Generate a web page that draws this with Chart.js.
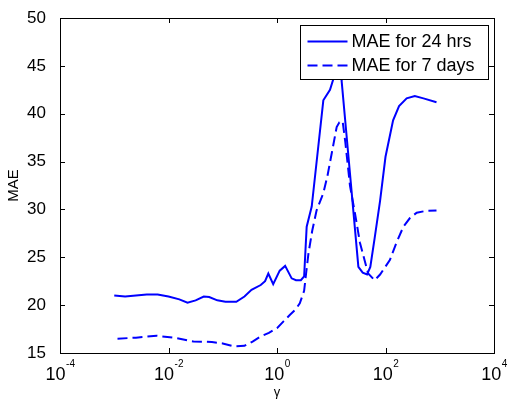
<!DOCTYPE html>
<html>
<head>
  <meta charset="utf-8">
  <title>MAE vs gamma</title>
  <script src="https://cdn.jsdelivr.net/npm/chart.js@4.4.1/dist/chart.umd.min.js"></script>
  <style>
    html, body { margin: 0; padding: 0; background: #fff; }
    canvas { display: block; }
  </style>
</head>
<body>
  <canvas id="chart" width="508" height="403"></canvas>
  <script>
    // values; x given as log10(gamma)
    var logGamma24 = [-3.0, -2.8, -2.6, -2.4, -2.2, -2.0, -1.8, -1.65, -1.5, -1.35, -1.25, -1.1, -0.95, -0.75, -0.6,
      -0.47, -0.3, -0.22, -0.16, -0.07, 0.05, 0.15, 0.27, 0.35, 0.44, 0.5, 0.547, 0.64, 0.75, 0.854, 0.977, 1.07,
      1.12, 1.17, 1.19, 1.3, 1.4, 1.5, 1.58, 1.66, 1.72, 1.8, 1.9, 2.0, 2.14, 2.25, 2.39, 2.54, 2.7, 2.94];
    var mae24 = [21.0, 20.9, 21.0, 21.1, 21.1, 20.9, 20.6, 20.25, 20.5, 20.9, 20.85, 20.5, 20.35, 20.35, 20.9,
      21.6, 22.1, 22.5, 23.3, 22.2, 23.6, 24.1, 22.8, 22.6, 22.6, 23.0, 28.2, 30.3, 36.0, 41.4, 42.5, 44.2,
      47.0, 45.5, 43.5, 36.6, 30.3, 24.0, 23.4, 23.2, 24.0, 27.0, 30.9, 35.5, 39.3, 40.8, 41.6, 41.85, 41.6, 41.2];

    var logGamma7 = [-2.94, -2.6, -2.22, -1.9, -1.54, -1.2, -1.0, -0.8, -0.6, -0.45, -0.31, -0.15, 0.0, 0.12, 0.24,
      0.35, 0.42, 0.5, 0.54, 0.58, 0.65, 0.73, 0.854, 0.93, 1.01, 1.1, 1.15, 1.21, 1.26, 1.345, 1.44, 1.53, 1.68,
      1.8, 1.9, 2.08, 2.2, 2.33, 2.45, 2.575, 2.75, 2.94];
    var mae7 = [16.5, 16.6, 16.8, 16.6, 16.2, 16.15, 16.0, 15.7, 15.75, 16.2, 16.7, 17.1, 17.6, 18.3, 19.0,
      19.6, 20.2, 21.5, 23.5, 25.4, 27.8, 29.9, 31.7, 33.5, 35.9, 38.6, 39.1, 39.2, 37.0, 32.5, 29.5, 26.5, 23.3,
      22.6, 23.2, 24.7, 26.5, 28.2, 29.1, 29.66, 29.85, 29.9];

    var xTickExps = [-4, -2, 0, 2, 4];
    var seriesNames = ['MAE for 24 hrs', 'MAE for 7 days'];

    var FONT = '"Liberation Sans", Arial, Helvetica, sans-serif';
    var BLUE = '#0000ff';

    function toPoints(lg, vals) {
      return lg.map(function(l, i) { return { x: Math.pow(10, l), y: vals[i] }; });
    }

    // frame, inward ticks, x labels with exponents, legend box
    var matlabLook = {
      id: 'matlabLook',
      afterDraw: function(chart) {
        var ctx = chart.ctx, a = chart.chartArea;
        var xs = chart.scales.x, ys = chart.scales.y;
        ctx.save();
        ctx.strokeStyle = '#000';
        ctx.lineWidth = 1;
        ctx.setLineDash([]);
        ctx.strokeRect(Math.round(a.left) + 0.5, Math.round(a.top) + 0.5,
          Math.round(a.right - a.left), Math.round(a.bottom - a.top));
        ctx.beginPath();
        xTickExps.forEach(function(e) {
          var px = Math.round(xs.getPixelForValue(Math.pow(10, e))) + 0.5;
          ctx.moveTo(px, a.bottom); ctx.lineTo(px, a.bottom - 5);
          ctx.moveTo(px, a.top); ctx.lineTo(px, a.top + 5);
        });
        ys.ticks.forEach(function(t) {
          var py = Math.round(ys.getPixelForValue(t.value)) + 0.5;
          ctx.moveTo(a.left, py); ctx.lineTo(a.left + 5, py);
          ctx.moveTo(a.right, py); ctx.lineTo(a.right - 5, py);
        });
        ctx.stroke();

        // x tick labels: "10" with a raised exponent
        ctx.fillStyle = '#000';
        ctx.textBaseline = 'alphabetic';
        ctx.textAlign = 'left';
        xTickExps.forEach(function(e) {
          var px = xs.getPixelForValue(Math.pow(10, e));
          ctx.font = '18px ' + FONT;
          var base = '10';
          var wb = ctx.measureText(base).width;
          ctx.font = '10px ' + FONT;
          var ex = e < 0 ? '-' + (-e) : String(e);
          var we = ctx.measureText(ex).width;
          var x0 = px - (wb + we) / 2;
          ctx.font = '18px ' + FONT;
          ctx.fillText(base, x0, a.bottom + 27);
          ctx.font = '10px ' + FONT;
          ctx.fillText(ex, x0 + wb + 0.5, a.bottom + 14);
        });

        // legend inside the axes, top right
        var bx = Math.round(a.right) - 5.5, by = Math.round(a.top) + 7.5;
        var bw = 188, bh = 54;
        ctx.fillStyle = '#fff';
        ctx.fillRect(bx - bw, by, bw, bh);
        ctx.strokeStyle = '#000';
        ctx.strokeRect(bx - bw, by, bw, bh);
        ctx.font = '18px ' + FONT;
        ctx.textBaseline = 'middle';
        seriesNames.forEach(function(name, i) {
          var ly = by + 16 + i * 24;
          ctx.strokeStyle = BLUE;
          ctx.lineWidth = 2;
          ctx.setLineDash(i === 0 ? [] : [10, 5]);
          ctx.beginPath();
          ctx.moveTo(bx - bw + 7, ly);
          ctx.lineTo(bx - bw + 47, ly);
          ctx.stroke();
          ctx.setLineDash([]);
          ctx.fillStyle = '#000';
          ctx.fillText(name, bx - bw + 51, ly + 1);
        });
        ctx.restore();
      }
    };

    var ctx = document.getElementById('chart').getContext('2d');
    window.chart = new Chart(ctx, {
      type: 'line',
      data: {
        datasets: [{
          label: seriesNames[0],
          data: toPoints(logGamma24, mae24),
          borderColor: BLUE,
          borderWidth: 2,
          pointRadius: 0,
          tension: 0,
          fill: false
        }, {
          label: seriesNames[1],
          data: toPoints(logGamma7, mae7),
          borderColor: BLUE,
          borderWidth: 2,
          borderDash: [10, 5],
          pointRadius: 0,
          tension: 0,
          fill: false
        }]
      },
      options: {
        responsive: false,
        animation: false,
        layout: { padding: { top: 18, right: 14, left: 0, bottom: 0 } },
        plugins: {
          legend: { display: false },
          tooltip: { enabled: false }
        },
        scales: {
          x: {
            type: 'logarithmic',
            min: 1e-4,
            max: 1e4,
            grid: { display: false },
            border: { display: false },
            ticks: { display: false },
            afterBuildTicks: function(s) {
              s.ticks = xTickExps.map(function(e) { return { value: Math.pow(10, e) }; });
            },
            afterFit: function(s) { s.height = 50; },
            title: {
              display: true,
              text: 'γ',
              color: '#000',
              font: { family: FONT, size: 13 },
              padding: { top: 0, bottom: 3 }
            }
          },
          y: {
            min: 15,
            max: 50,
            grid: { display: false },
            border: { display: false },
            ticks: {
              stepSize: 5,
              color: '#000',
              padding: 6,
              font: { family: FONT, size: 17 }
            },
            afterFit: function(s) { s.width = 60; },
            title: {
              display: true,
              text: 'MAE',
              color: '#000',
              font: { family: FONT, size: 15 },
              padding: { top: 5, bottom: 0 }
            }
          }
        }
      },
      plugins: [matlabLook]
    });
  </script>
</body>
</html>
